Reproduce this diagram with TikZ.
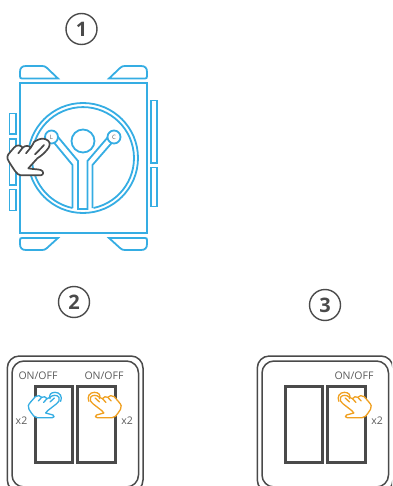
\documentclass[tikz,border=0pt]{standalone}
\usepackage{fontspec}
\setmainfont{Open Sans}
\definecolor{cblue}{HTML}{35ADE3}
\definecolor{corange}{HTML}{F0A020}
\definecolor{cdark}{HTML}{4A4A4A}
\definecolor{ctext}{HTML}{5A5A5A}
\tikzset{
  blueline/.style={draw=cblue,line width=1.8pt},
  pad/.style={draw=cblue,line width=1.8pt,fill=white},
  plate/.style={draw=cdark,line width=1.5pt,rounded corners=12pt},
  swbox/.style={draw=cdark,line width=3pt},
  lab/.style={text=ctext,font=\fontsize{10.5pt}{12pt}\selectfont,inner sep=0pt},
  numc/.style={circle,draw=cdark,line width=1.4pt,minimum size=31pt,inner sep=0pt,text=cdark,font=\fontsize{20pt}{22pt}\selectfont\bfseries},
  small/.style={text=ctext,font=\fontsize{6pt}{7pt}\selectfont,inner sep=0pt},
  tapper/.pic={
    \begin{scope}[shift={(0,340)},scale=1/3]
    \draw[line width=1.3pt,pic actions,fill=white,line join=round,line cap=round]
      (150,172) .. controls (158,164) and (172,164) .. (177,172)
      .. controls (181,180) and (176,186) .. (170,191)
      -- (143,212) -- (137,219) .. controls (145,222) and (155,223) .. (159,225)
      .. controls (164,228) and (163,233) .. (157,233)
      -- (112,233) .. controls (102,232) and (100,226) .. (95,220)
      -- (87,208) .. controls (82,200) and (85,194) .. (92,186)
      -- (106,170) .. controls (112,165) and (122,166) .. (125,172)
      .. controls (130,168) and (138,170) .. (141,176)
      .. controls (144,173) and (147,174) .. (150,172);
    \draw[line width=1.3pt,pic actions,line cap=round]
      (163,174) -- (150,186) (125,172) -- (115,183) (141,176) -- (131,187);
    \draw[line width=1.3pt,pic actions,line cap=round]
      (150,176) .. controls (146,165) and (152,157) .. (165,157)
      .. controls (180,157) and (188,170) .. (182,184);
    \end{scope}
  }
}
\begin{document}
\begin{tikzpicture}[x=1pt,y=-1pt]
\clip (0,0) rectangle (392,486);
% device
\draw[blueline] (20,83) rectangle (147,233);
\draw[blueline,line join=miter] (58,78.5) -- (47,68) .. controls (45.5,66.5) and (44,66) .. (42,66) -- (26,66) .. controls (22,66) and (20,68) .. (20,72) -- (20,76) .. controls (20,78) and (20.5,78.5) .. (22,78.5) -- cycle;
\draw[blueline,line join=miter] (109,78.5) -- (120,68) .. controls (121.5,66.5) and (123,66) .. (125,66) -- (141,66) .. controls (145,66) and (147,68) .. (147,72) -- (147,76) .. controls (147,78) and (146.5,78.5) .. (145,78.5) -- cycle;
\draw[blueline,line join=miter] (58,238) -- (47,248) .. controls (45.5,249.5) and (44,250) .. (42,250) -- (26,250) .. controls (22,250) and (20,248) .. (20,244) -- (20,240) .. controls (20,238.5) and (20.5,238) .. (22,238) -- cycle;
\draw[blueline,line join=miter] (109,238) -- (120,248) .. controls (121.5,249.5) and (123,250) .. (125,250) -- (141,250) .. controls (145,250) and (147,248) .. (147,244) -- (147,240) .. controls (147,238.5) and (146.5,238) .. (145,238) -- cycle;
\draw[pad] (9.5,113.5) rectangle (16,134);
\draw[pad] (9.5,139) rectangle (16,185);
\draw[pad] (9.5,189.5) rectangle (16,210.5);
\draw[pad] (151,100.5) rectangle (157,163);
\draw[pad] (151,167.5) rectangle (157,206.5);
\draw[blueline] (83,158) circle[radius=55];
\draw[blueline] (83,158) ++(10.5,50) arc[start angle=78.1,end angle=-258.1,radius=51];
\draw[blueline,fill=white] (83,141) circle[radius=11.5];
\draw[blueline,line join=round] (53.5,142) -- (72.5,165) -- (72.5,208);
\draw[blueline,line join=round] (112.5,142) -- (92.5,165) -- (92.5,208);
\draw[blueline,line join=miter] (58,137) -- (78,161) -- (78,209) -- (87.5,209) -- (87.5,161) -- (108,137);
\node[circle,draw=cblue,line width=1.8pt,fill=white,minimum size=13pt,inner sep=0pt] (L) at (51.5,137) {};
\node[circle,draw=cblue,line width=1.8pt,fill=white,minimum size=13pt,inner sep=0pt] (C) at (114,137) {};
\node[small] at (L) {L};
\node[small] at (C) {C};
% hand on device
\begin{scope}[shift={(0,125)},scale=1/3]
\draw[draw=cdark,line width=1.7pt,fill=white,line join=round,line cap=round]
  (102,51) .. controls (110,45) and (125,38) .. (135,42)
  .. controls (150,46) and (152,58) .. (146,68)
  .. controls (138,80) and (125,92) .. (112,100)
  -- (85,130) .. controls (100,133) and (112,132) .. (122,135)
  .. controls (132,138) and (132,150) .. (122,151)
  -- (62,151) .. controls (50,150) and (40,130) .. (28,112)
  .. controls (18,98) and (22,90) .. (30,82)
  -- (42,68) .. controls (50,58) and (62,60) .. (68,68)
  .. controls (76,60) and (88,62) .. (92,68)
  .. controls (96,62) and (100,56) .. (102,51);
\draw[draw=cdark,line width=1.7pt,line cap=round]
  (132,60) .. controls (125,68) and (115,78) .. (105,88)
  (68,68) -- (55,85) (92,68) -- (78,85);
\end{scope}
% plates
\draw[plate] (7.3,356) rectangle (143,492);
\draw[plate] (12,361) rectangle (138.5,487);
\draw[plate] (257.3,356) rectangle (393,492);
\draw[plate] (262,361) rectangle (388.5,487);
\draw[swbox] (35.5,386) rectangle (72.5,462.5);
\draw[swbox] (77.5,386) rectangle (115,462.5);
\draw[swbox] (285.5,386) rectangle (322.5,462.5);
\draw[swbox] (327.5,386) rectangle (365,462.5);
\pic[draw=cblue] {tapper};
\pic[draw=corange,transform shape,xscale=-1,shift={(-149.5,0)}] {tapper};
\pic[draw=corange,transform shape,xscale=-1,shift={(-399.5,0)}] {tapper};
% labels
\node[lab] at (38,376) {ON/OFF};
\node[lab] at (104,376) {ON/OFF};
\node[lab] at (354,376) {ON/OFF};
\node[lab] at (21.5,421) {x2};
\node[lab] at (127,421) {x2};
\node[lab] at (377,421) {x2};
\node[numc] at (81.5,29) {1};
\node[numc] at (74,302) {2};
\node[numc] at (325,305) {3};
\end{tikzpicture}
\end{document}
